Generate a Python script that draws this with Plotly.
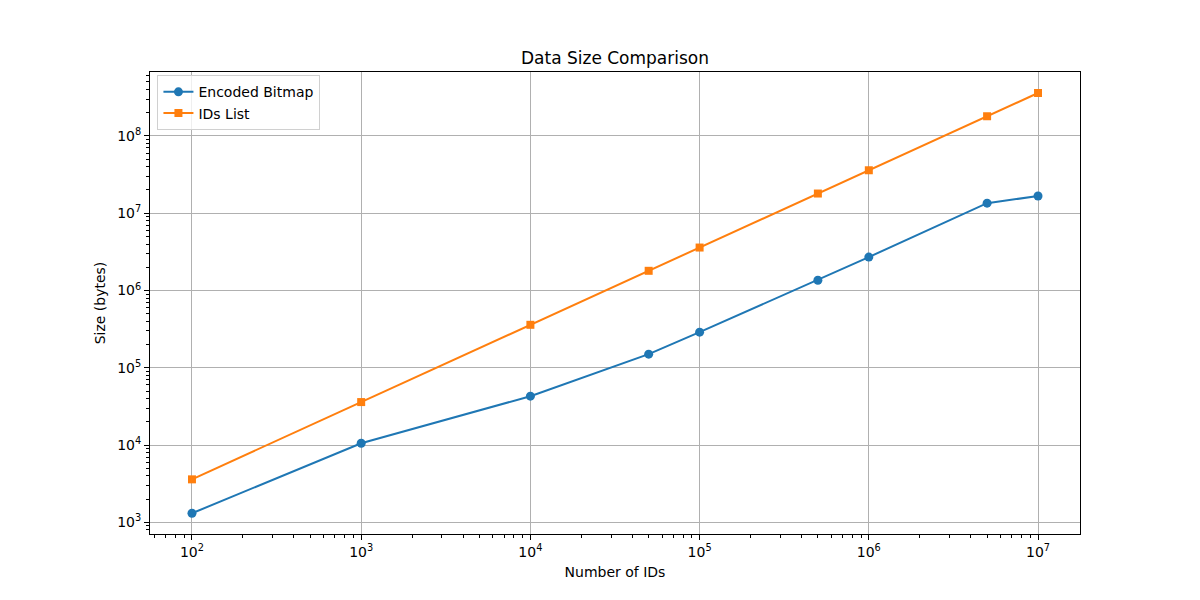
import plotly.graph_objects as go

num_ids = [100, 1000, 10000, 50000, 100000, 500000, 1000000, 5000000, 10000000]
encoded_bitmap = [1310, 10550, 42900, 150000, 289000, 1360000, 2710000, 13500000, 16700000]
ids_list = [3600, 36000, 360000, 1800000, 3600000, 18000000, 36000000, 180000000, 360000000]

x_tickvals = [1e2, 1e3, 1e4, 1e5, 1e6, 1e7]
x_ticktext = ["10<sup>2</sup>", "10<sup>3</sup>", "10<sup>4</sup>", "10<sup>5</sup>", "10<sup>6</sup>", "10<sup>7</sup>"]
y_tickvals = [1e3, 1e4, 1e5, 1e6, 1e7, 1e8]
y_ticktext = ["10<sup>3</sup>", "10<sup>4</sup>", "10<sup>5</sup>", "10<sup>6</sup>", "10<sup>7</sup>", "10<sup>8</sup>"]

FONT = "DejaVu Sans"

fig = go.Figure()
fig.add_trace(go.Scatter(x=num_ids, y=encoded_bitmap, mode="lines+markers", name="Encoded Bitmap",
                         line=dict(color="#1f77b4", width=2),
                         marker=dict(symbol="circle", size=9, color="#1f77b4")))
fig.add_trace(go.Scatter(x=num_ids, y=ids_list, mode="lines+markers", name="IDs List",
                         line=dict(color="#ff7f0e", width=2),
                         marker=dict(symbol="square", size=8, color="#ff7f0e")))

axis_common = dict(
    showline=True, linecolor="black", linewidth=1, mirror=True,
    showgrid=True, gridcolor="#b0b0b0", gridwidth=1,
    ticks="outside", ticklen=5, tickwidth=1, tickcolor="black",
    zeroline=False,
    tickfont=dict(family=FONT, size=14, color="black"),
)

fig.update_xaxes(type="log", range=[1.752, 7.248], tickvals=x_tickvals, ticktext=x_ticktext,
                 title=dict(text="Number of IDs", font=dict(family=FONT, size=14, color="black"), standoff=8),
                 minor=dict(ticks="outside", ticklen=3, tickcolor="black", tickwidth=0.8, dtick="D1", showgrid=False),
                 **axis_common)
fig.update_yaxes(type="log", range=[2.849, 8.828], tickvals=y_tickvals, ticktext=y_ticktext,
                 title=dict(text="Size (bytes)", font=dict(family=FONT, size=14, color="black"), standoff=8),
                 minor=dict(ticks="outside", ticklen=3, tickcolor="black", tickwidth=0.8, dtick="D1", showgrid=False),
                 **axis_common)

# page has an 8px default body margin; compensate so the plot area matches
fig.update_layout(
    width=1192, height=592,
    margin=dict(l=142, r=120, t=64, b=66),
    paper_bgcolor="white", plot_bgcolor="white",
    title=dict(text="Data Size Comparison", xref="paper", x=0.5, xanchor="center",
               y=1 - 50/592, yanchor="middle",
               font=dict(family=FONT, size=17, color="black")),
    font=dict(family=FONT, size=14, color="black"),
    legend=dict(x=0.008, y=0.993, xanchor="left", yanchor="top",
                bgcolor="rgba(255,255,255,0.8)", bordercolor="#d0d0d0", borderwidth=1,
                font=dict(family=FONT, size=14, color="black"),
                tracegroupgap=0, itemwidth=30),
    showlegend=True,
)

fig.write_html("out.html")
